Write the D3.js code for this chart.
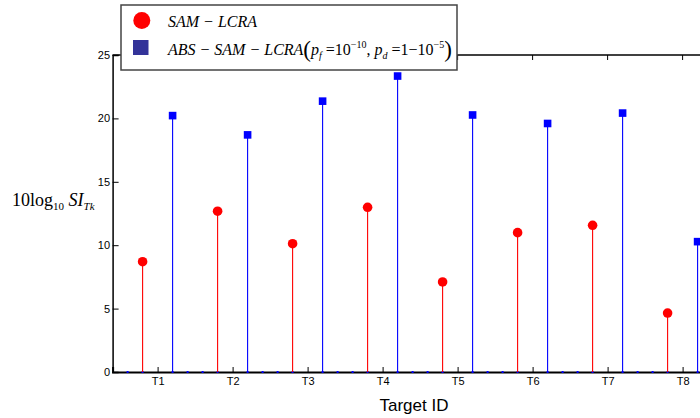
<!DOCTYPE html>
<html>
<head>
<meta charset="utf-8">
<script src="https://cdn.jsdelivr.net/npm/d3@7"></script>
<style>
  html, body { margin: 0; padding: 0; background: #fff; }
  svg { display: block; }
</style>
</head>
<body>
<svg id="chart" width="700" height="418"></svg>
<script>
// Target labels and the two stem series (dB)
const categories = ["T1", "T2", "T3", "T4", "T5", "T6", "T7", "T8"];
const samLcra    = [8.70, 12.68, 10.12, 12.99, 7.10, 10.99, 11.57, 4.65];
const absSamLcra = [20.22, 18.70, 21.36, 23.34, 20.27, 19.60, 20.42, 10.28];
const yTicks     = [0, 5, 10, 15, 20, 25];

const svg = d3.select("#chart");

const plotLeft = 112.6, plotBottom = 372, plotTop = 55;
const x = d3.scaleLinear().domain([0.4, 8.6]).range([plotLeft, plotLeft + 8.2 * 75]);
const y = d3.scaleLinear().domain([0, 25]).range([plotBottom, plotTop]);

const RED = "#ff0000", BLUE = "#0000ff";
const xPos = categories.map((c, i) => i + 1);

// frame: top edge with downward ticks
svg.append("line").attr("x1", plotLeft).attr("x2", 760).attr("y1", plotTop).attr("y2", plotTop)
  .attr("stroke", "#000").attr("stroke-width", 1.5);
svg.append("g").selectAll("line").data(xPos).join("line")
  .attr("x1", d => x(d)).attr("x2", d => x(d))
  .attr("y1", plotTop).attr("y2", plotTop + 5)
  .attr("stroke", "#000").attr("stroke-width", 1);

// y axis with inward ticks
const yAxis = d3.axisLeft(y).tickValues(yTicks).tickSize(-6).tickPadding(2.5);
const gy = svg.append("g").attr("transform", `translate(${plotLeft},0)`).call(yAxis);
gy.select(".domain").attr("stroke-width", 1.5);
gy.selectAll("text").attr("font-family", "Liberation Sans, Arial, sans-serif")
  .attr("font-size", 11).attr("fill", "#000");

// x axis: inward major ticks, labels below
const xAxis = d3.axisBottom(x).tickValues(xPos).tickFormat((d, i) => categories[i])
  .tickSize(-5).tickPadding(5);
const gx = svg.append("g").attr("transform", `translate(0,${plotBottom})`).call(xAxis);
gx.select(".domain").attr("stroke-width", 2);
gx.selectAll("text").attr("font-family", "Liberation Sans, Arial, sans-serif")
  .attr("font-size", 11).attr("fill", "#000");

// minor tick dots along the x axis
const minor = d3.range(6, 86, 2).map(v => v / 10).filter(v => Math.abs(v - Math.round(v)) > 0.01);
svg.append("g").selectAll("rect").data(minor).join("rect")
  .attr("x", d => x(d) - 1).attr("y", plotBottom - 1).attr("width", 2).attr("height", 2)
  .attr("fill", BLUE);

// stems
function stems(values, offset, color) {
  const g = svg.append("g");
  g.selectAll("line").data(values).join("line")
    .attr("x1", (d, i) => x(xPos[i] + offset))
    .attr("x2", (d, i) => x(xPos[i] + offset))
    .attr("y1", y(0)).attr("y2", d => y(d))
    .attr("stroke", color).attr("stroke-width", 1.1);
  return g;
}
stems(samLcra, -0.2, RED).selectAll("circle").data(samLcra).join("circle")
  .attr("cx", (d, i) => x(xPos[i] - 0.2)).attr("cy", d => y(d)).attr("r", 4.8)
  .attr("fill", RED);
stems(absSamLcra, 0.2, BLUE).selectAll("rect").data(absSamLcra).join("rect")
  .attr("x", (d, i) => x(xPos[i] + 0.2) - 3.8).attr("y", d => y(d) - 3.8)
  .attr("width", 7.6).attr("height", 7.6).attr("fill", BLUE);

// axis titles
svg.append("text").attr("x", 414).attr("y", 411).attr("text-anchor", "middle")
  .attr("font-family", "Liberation Sans, Arial, sans-serif").attr("font-size", 17)
  .text("Target ID");

const serif = "Liberation Serif, Times New Roman, serif";
const yl = svg.append("text").attr("x", 12).attr("y", 206)
  .attr("font-family", serif).attr("font-size", 18).attr("fill", "#000");
yl.append("tspan").text("10log");
yl.append("tspan").attr("font-size", 11).attr("dy", 4).text("10");
yl.append("tspan").attr("dy", -4).text(" ");
yl.append("tspan").attr("font-style", "italic").text("SI");
yl.append("tspan").attr("font-style", "italic").attr("font-size", 11).attr("dy", 4).text("Tk");

// legend
const lg = svg.append("g");
lg.append("rect").attr("x", 121).attr("y", 5).attr("width", 336).attr("height", 65)
  .attr("fill", "#fff").attr("stroke", "#444").attr("stroke-width", 1.5);
lg.append("circle").attr("cx", 141.8).attr("cy", 20.5).attr("r", 8.5).attr("fill", RED);
lg.append("rect").attr("x", 133).attr("y", 40).attr("width", 15.5).attr("height", 15)
  .attr("fill", "#333399");

lg.append("text").attr("x", 168).attr("y", 27)
  .attr("font-family", serif).attr("font-size", 16).attr("font-style", "italic")
  .text("SAM \u2212 LCRA");

const t2 = lg.append("text").attr("x", 168).attr("y", 55)
  .attr("font-family", serif).attr("font-size", 16);
t2.append("tspan").attr("font-style", "italic").text("ABS \u2212 SAM \u2212 LCRA");
t2.append("tspan").attr("font-size", 23).attr("dy", 2).text("(");
t2.append("tspan").attr("font-style", "italic").attr("dy", -2).text("p");
t2.append("tspan").attr("font-style", "italic").attr("font-size", 10).attr("dy", 4).text("f");
t2.append("tspan").attr("dy", -4).text(" =10");
t2.append("tspan").attr("font-size", 10).attr("dy", -7).text("\u221210");
t2.append("tspan").attr("dy", 7).text(", ");
t2.append("tspan").attr("font-style", "italic").text("p");
t2.append("tspan").attr("font-style", "italic").attr("font-size", 10).attr("dy", 4).text("d");
t2.append("tspan").attr("dy", -4).text(" =1\u221210");
t2.append("tspan").attr("font-size", 10).attr("dy", -7).text("\u22125");
t2.append("tspan").attr("font-size", 23).attr("dy", 9).text(")");
</script>
</body>
</html>
